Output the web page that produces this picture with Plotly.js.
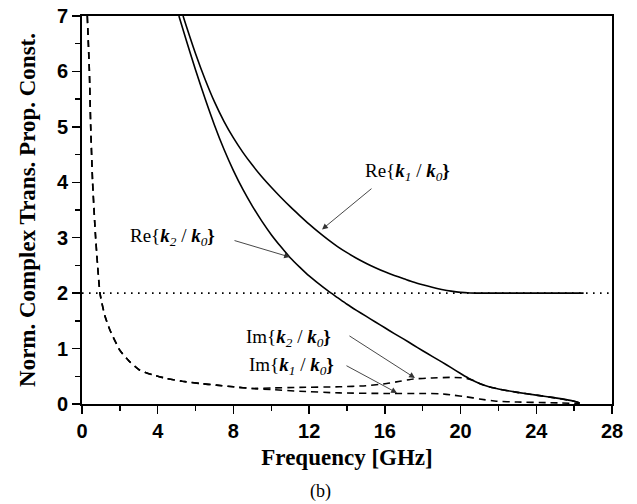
<!DOCTYPE html>
<html>
<head>
<meta charset="utf-8">
<script src="https://cdn.plot.ly/plotly-3.0.1.min.js"></script>
<style>html,body{margin:0;padding:0;background:#fff;} #chart{width:637px;height:504px;}</style>
</head>
<body>
<div id="chart"></div>
<script>
// Re{k1/k0}
var reK1X = [5.34, 5.5, 6.0, 6.5, 7.0, 7.5, 8.0, 8.5, 9.0, 9.5, 10.0, 10.5, 11.0, 11.5, 12.0, 12.5, 13.0, 13.5, 14.0, 14.5, 15.0, 15.5, 16.0, 16.5, 17.0, 17.5, 18.0, 18.5, 19.0, 19.5, 20.0, 20.5, 21.0, 26.5];
var reK1Y = [7.0, 6.83, 6.32, 5.86, 5.45, 5.10, 4.80, 4.54, 4.31, 4.10, 3.91, 3.73, 3.56, 3.40, 3.245, 3.10, 2.965, 2.84, 2.73, 2.63, 2.54, 2.46, 2.385, 2.32, 2.26, 2.20, 2.15, 2.105, 2.067, 2.036, 2.014, 2.003, 2.0, 2.0];
// Re{k2/k0}
var reK2X = [5.12, 5.5, 6.0, 6.5, 7.0, 7.5, 8.0, 8.5, 9.0, 9.5, 10.0, 10.5, 11.0, 11.5, 12.0, 12.5, 13.0, 13.5, 14.0, 14.5, 15.0, 15.5, 16.0, 16.5, 17.0, 17.5, 18.0, 18.5, 19.0, 19.5, 20.0, 20.5, 21.0, 21.5, 22.0, 23.0, 24.0, 25.0, 26.0, 26.3];
var reK2Y = [7.0, 6.57, 6.025, 5.51, 5.03, 4.595, 4.21, 3.87, 3.57, 3.30, 3.055, 2.84, 2.64, 2.47, 2.31, 2.17, 2.04, 1.92, 1.80, 1.69, 1.585, 1.48, 1.375, 1.27, 1.17, 1.065, 0.96, 0.86, 0.76, 0.655, 0.55, 0.45, 0.37, 0.31, 0.27, 0.21, 0.16, 0.11, 0.05, 0.02];
// Im{k2/k0}
var imK2X = [0.28, 0.39, 0.46, 0.56, 0.72, 0.95, 1.2, 1.48, 2.0, 2.5, 3.06, 3.7, 4.47, 5.3, 6.23, 7.1, 8.0, 9.0, 10.0, 11.5, 13.6, 15.0, 16.1, 16.8, 17.5, 18.5, 19.5, 20.2, 20.7, 21.0, 21.5, 22.0, 23.0, 24.0, 25.0, 26.0, 26.3];
var imK2Y = [7.0, 6.0, 5.0, 4.0, 3.0, 2.0, 1.6, 1.33, 0.97, 0.77, 0.61, 0.53, 0.46, 0.41, 0.37, 0.34, 0.31, 0.28, 0.29, 0.30, 0.31, 0.33, 0.37, 0.41, 0.45, 0.47, 0.48, 0.47, 0.42, 0.37, 0.31, 0.27, 0.21, 0.16, 0.11, 0.05, 0.02];
// Im{k1/k0}
var imK1X = [0.28, 0.39, 0.46, 0.56, 0.72, 0.95, 1.2, 1.48, 2.0, 2.5, 3.06, 3.7, 4.47, 5.3, 6.23, 7.1, 8.0, 9.0, 10.0, 11.5, 13.6, 16.0, 18.0, 18.9, 19.6, 20.3, 21.0, 21.9, 23.0, 24.5, 26.3];
var imK1Y = [7.0, 6.0, 5.0, 4.0, 3.0, 2.0, 1.6, 1.33, 0.97, 0.77, 0.61, 0.53, 0.46, 0.41, 0.37, 0.34, 0.31, 0.28, 0.26, 0.23, 0.20, 0.19, 0.19, 0.185, 0.16, 0.13, 0.09, 0.05, 0.035, 0.025, 0.01];
// reference level
var refX = [0, 28];
var refY = [2, 2];

var xTicks = [0, 4, 8, 12, 16, 20, 24, 28];
var yTicks = [0, 1, 2, 3, 4, 5, 6, 7];

var blk = '#000';
var traces = [
  {x: refX, y: refY, mode: 'lines', line: {color: blk, width: 1.6, dash: '1.6px,5.4px'}, name: 'ref'},
  {x: reK1X, y: reK1Y, mode: 'lines', line: {color: blk, width: 1.6, shape: 'spline', smoothing: 0.6}, name: 'Re k1'},
  {x: reK2X, y: reK2Y, mode: 'lines', line: {color: blk, width: 1.6, shape: 'spline', smoothing: 0.6}, name: 'Re k2'},
  {x: imK2X, y: imK2Y, mode: 'lines', line: {color: blk, width: 1.6, dash: '7px,5px', shape: 'spline', smoothing: 0.5}, name: 'Im k2'},
  {x: imK1X, y: imK1Y, mode: 'lines', line: {color: blk, width: 1.6, dash: '7px,5px', shape: 'spline', smoothing: 0.5}, name: 'Im k1'}
];

var serif = 'Liberation Serif, Times New Roman, serif';
var sans = 'Liberation Sans, Arial, sans-serif';
var lblFont = {family: serif, size: 19, color: blk};

function lbl(n) {
  return '<b><i>k</i></b><sub><i>' + n + '</i></sub>';
}

var arrowCommon = {showarrow: true, text: '', xref: 'x', yref: 'y', axref: 'pixel', ayref: 'pixel',
  arrowhead: 2, arrowsize: 1.3, arrowwidth: 0.9, arrowcolor: '#333', standoff: 0};

function px2x(p) { return (p - 82) / 530; }
function py2y(p) { return (404 - p) / 388; }

var annotations = [
  Object.assign({}, arrowCommon, {x: 12.68, y: 3.15, ax: 51, ay: -42}),
  Object.assign({}, arrowCommon, {x: 10.99, y: 2.65, ax: -57, ay: -17}),
  Object.assign({}, arrowCommon, {x: 17.59, y: 0.47, ax: -67, ay: -43}),
  Object.assign({}, arrowCommon, {x: 16.64, y: 0.20, ax: -52, ay: -28}),
  {xref: 'paper', yref: 'paper', x: px2x(407), y: py2y(172), xanchor: 'center', yanchor: 'middle', text: 'Re{' + lbl(1) + ' / ' + lbl(0) + '<b>}</b>', showarrow: false, font: lblFont},
  {xref: 'paper', yref: 'paper', x: px2x(172), y: py2y(237), xanchor: 'center', yanchor: 'middle', text: 'Re{' + lbl(2) + ' / ' + lbl(0) + '<b>}</b>', showarrow: false, font: lblFont},
  {xref: 'paper', yref: 'paper', x: px2x(288), y: py2y(338), xanchor: 'center', yanchor: 'middle', text: 'Im{' + lbl(2) + ' / ' + lbl(0) + '<b>}</b>', showarrow: false, font: lblFont},
  {xref: 'paper', yref: 'paper', x: px2x(291), y: py2y(366), xanchor: 'center', yanchor: 'middle', text: 'Im{' + lbl(1) + ' / ' + lbl(0) + '<b>}</b>', showarrow: false, font: lblFont},
  {xref: 'paper', yref: 'paper', x: px2x(320), y: py2y(491), xanchor: 'center', yanchor: 'middle', text: '(b)', showarrow: false, font: {family: serif, size: 18, color: blk}}
];

var layout = {
  width: 637, height: 504,
  margin: {l: 82, r: 25, t: 16, b: 100},
  paper_bgcolor: '#fff', plot_bgcolor: '#fff',
  showlegend: false,
  xaxis: {
    range: [0, 28], tickvals: xTicks, ticktext: xTicks.map(String),
    showgrid: false, zeroline: false, showline: true, mirror: true, linecolor: blk, linewidth: 2,
    ticks: 'outside', ticklen: 8, tickwidth: 1.5, tickcolor: blk,
    minor: {dtick: 2, ticks: 'outside', ticklen: 5, tickwidth: 1.5, tickcolor: blk, showgrid: false},
    tickfont: {family: sans, size: 20, color: blk, weight: 'bold'},
    title: {text: 'Frequency [GHz]', font: {family: serif, size: 23, color: blk, weight: 'bold'}, standoff: 8}
  },
  yaxis: {
    range: [0, 7], tickvals: yTicks, ticktext: yTicks.map(String),
    showgrid: false, zeroline: false, showline: true, mirror: true, linecolor: blk, linewidth: 2,
    ticks: 'outside', ticklen: 8, tickwidth: 1.5, tickcolor: blk,
    minor: {dtick: 0.5, ticks: 'outside', ticklen: 5, tickwidth: 1.5, tickcolor: blk, showgrid: false},
    tickfont: {family: sans, size: 20, color: blk, weight: 'bold'},
    title: {text: 'Norm. Complex Trans. Prop. Const.', font: {family: serif, size: 23, color: blk, weight: 'bold'}, standoff: 15}
  },
  annotations: annotations
};

Plotly.newPlot('chart', traces, layout, {displayModeBar: false, staticPlot: true});
</script>
</body>
</html>
